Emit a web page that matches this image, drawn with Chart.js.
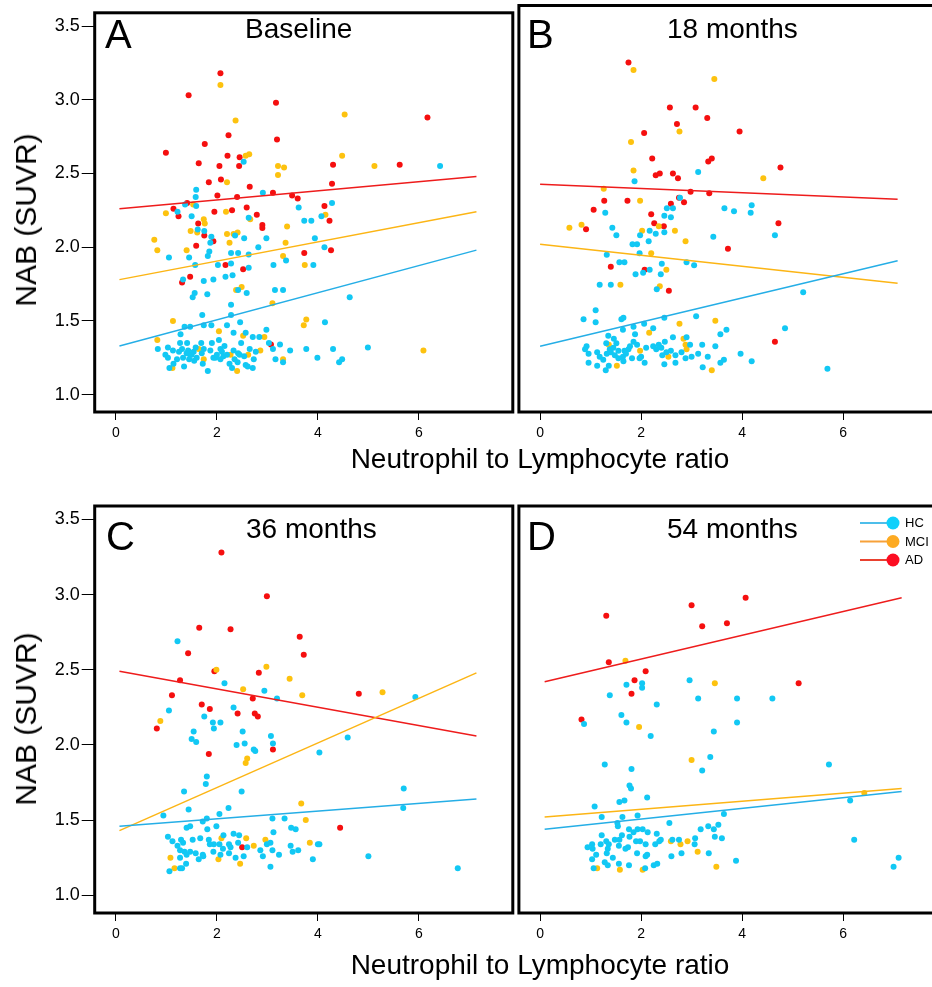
<!DOCTYPE html>
<html><head><meta charset="utf-8">
<script src="https://cdn.jsdelivr.net/npm/chart.js@4/dist/chart.umd.min.js"></script>
<style>
html,body{margin:0;padding:0;background:#fff;overflow:hidden;width:932px;height:987px;}
#wrap{position:relative;width:932px;height:987px;overflow:hidden;}
canvas{position:absolute;}
.xt{position:absolute;font-family:'Liberation Sans',Arial,sans-serif;font-size:28px;color:#000;white-space:nowrap;transform:translateX(-50%);line-height:1;}
.yt{position:absolute;font-family:'Liberation Sans',Arial,sans-serif;font-size:30px;color:#000;white-space:nowrap;transform:translate(-50%,-50%) rotate(-90deg);line-height:1;}
</style></head><body><div id="wrap">
<canvas id="cA" width="516" height="450" style="left:0;top:0"></canvas>
<canvas id="cB" width="426" height="450" style="left:516px;top:0"></canvas>
<canvas id="cC" width="516" height="460" style="left:0;top:490px"></canvas>
<canvas id="cD" width="426" height="460" style="left:516px;top:490px"></canvas>
<div class="yt" id="yt1" style="left:26px;top:220px"></div>
<div class="yt" id="yt2" style="left:26px;top:719px"></div>
<div class="xt" id="xt1" style="left:540px;top:445px"></div>
<div class="xt" id="xt2" style="left:540px;top:951px"></div>
</div>
<script>
// ---------- text / categories ----------
const groups = ['HC', 'MCI', 'AD'];
const panelLetters = ['A', 'B', 'C', 'D'];
const panelTitles = ['Baseline', '18 months', '36 months', '54 months'];
const xAxisTitle = 'Neutrophil to Lymphocyte ratio';
const yAxisTitle = 'NAB (SUVR)';
const xTicks = [0, 2, 4, 6];
const xTickLabels = ['0', '2', '4', '6'];
const yTicks = [1.0, 1.5, 2.0, 2.5, 3.0, 3.5];
const yTickLabels = ['1.0', '1.5', '2.0', '2.5', '3.0', '3.5'];

// ---------- Panel A: Baseline ----------
const A_HC = [[2.53,2.58],[6.42,2.55],[1.59,2.39],[1.58,2.34],[1.37,2.29],[1.59,2.28],[2.91,2.37],[3.62,2.27],[4.28,2.30],[1.22,2.24],[1.50,2.21],[2.63,2.20],[3.73,2.18],[3.87,2.18],[4.07,2.21],[1.62,2.12],[1.75,2.11],[1.89,2.07],[2.36,2.08],[2.54,2.06],[2.98,2.06],[3.94,2.06],[4.13,2.00],[1.05,1.93],[1.45,1.93],[1.57,1.88],[1.87,2.03],[1.85,1.97],[1.82,1.94],[2.02,1.88],[2.28,1.96],[2.42,1.96],[2.63,1.95],[2.28,1.89],[2.82,2.00],[3.12,1.88],[3.37,1.91],[3.91,1.88],[1.33,1.78],[1.52,1.66],[1.56,1.69],[1.74,1.77],[1.93,1.78],[2.17,1.80],[2.31,1.81],[1.81,1.68],[2.42,1.71],[2.59,1.69],[2.63,1.86],[3.15,1.71],[3.31,1.71],[2.28,1.61],[1.71,1.54],[2.28,1.54],[4.63,1.66],[4.14,1.49],[1.36,1.46],[1.47,1.46],[1.74,1.47],[1.89,1.47],[2.20,1.47],[2.46,1.49],[1.28,1.41],[2.33,1.42],[2.57,1.42],[2.98,1.44],[2.71,1.39],[2.84,1.39],[1.27,1.35],[1.41,1.35],[1.69,1.35],[1.90,1.35],[2.04,1.37],[2.48,1.35],[3.03,1.35],[3.25,1.34],[0.83,1.31],[1.03,1.32],[1.13,1.30],[1.31,1.31],[1.43,1.30],[1.54,1.29],[1.74,1.31],[1.87,1.30],[2.07,1.31],[2.33,1.30],[2.65,1.31],[2.77,1.29],[3.77,1.31],[4.30,1.31],[4.99,1.32],[3.45,1.30],[3.11,1.31],[0.98,1.27],[1.03,1.25],[1.21,1.24],[1.33,1.25],[1.47,1.27],[1.60,1.25],[1.97,1.25],[2.13,1.26],[2.42,1.28],[2.54,1.26],[2.73,1.24],[3.16,1.24],[3.99,1.25],[3.31,1.22],[1.06,1.18],[1.14,1.21],[1.35,1.19],[1.55,1.23],[1.72,1.21],[1.93,1.25],[2.07,1.24],[2.25,1.21],[2.41,1.22],[2.57,1.20],[2.30,1.18],[2.61,1.19],[2.71,1.18],[1.82,1.16],[4.42,1.22],[4.48,1.24],[1.40,1.28],[1.50,1.27],[1.58,1.32],[1.70,1.28],[2.10,1.29],[2.20,1.27],[2.45,1.27],[1.25,1.29],[1.45,1.24],[2.00,1.27],[2.15,1.33],[2.35,1.24]];
const A_MCI = [[2.07,3.10],[2.37,2.86],[4.53,2.90],[2.64,2.63],[2.57,2.62],[4.48,2.62],[3.21,2.55],[3.33,2.54],[5.12,2.55],[3.21,2.49],[2.20,2.44],[1.53,2.29],[0.99,2.23],[2.18,2.24],[4.15,2.22],[1.74,2.19],[1.76,2.16],[2.66,2.19],[1.48,2.11],[1.61,2.10],[2.20,2.09],[2.33,2.09],[2.41,2.10],[3.39,2.14],[0.76,2.05],[0.82,1.98],[1.40,1.98],[3.36,2.03],[2.25,2.03],[3.31,1.94],[3.74,1.88],[2.38,1.71],[2.49,1.73],[3.10,1.62],[1.13,1.50],[3.77,1.51],[3.72,1.47],[2.04,1.43],[0.82,1.37],[2.52,1.40],[2.94,1.39],[1.64,1.31],[1.74,1.24],[2.86,1.30],[2.27,1.27],[2.62,1.27],[3.31,1.24],[1.12,1.18],[2.40,1.16],[6.09,1.30]];
const A_AD = [[2.07,3.18],[1.44,3.03],[3.17,2.98],[6.17,2.88],[0.99,2.64],[2.23,2.76],[1.76,2.70],[3.19,2.73],[2.21,2.62],[2.45,2.61],[1.64,2.57],[2.05,2.55],[2.44,2.55],[4.30,2.56],[5.62,2.56],[1.84,2.44],[2.08,2.46],[2.65,2.41],[2.01,2.35],[2.40,2.34],[1.41,2.30],[3.11,2.37],[3.49,2.35],[3.60,2.33],[1.14,2.26],[1.24,2.21],[2.30,2.25],[2.59,2.27],[1.95,2.24],[2.79,2.22],[4.13,2.28],[4.28,2.43],[1.63,2.16],[2.90,2.15],[2.90,2.13],[4.23,2.18],[1.59,2.01],[1.75,2.08],[1.93,2.04],[3.73,1.96],[4.26,1.98],[2.17,1.88],[2.52,1.85],[1.31,1.76],[1.47,1.80],[3.07,1.34]];
const A_fitHC = [[0.07,1.33],[7.14,1.98]];
const A_fitMCI = [[0.07,1.78],[7.14,2.24]];
const A_fitAD = [[0.07,2.26],[7.14,2.48]];

// ---------- Panel B: 18 months ----------
const B_HC = [[3.13,2.48],[1.87,2.42],[2.77,2.31],[2.51,2.24],[2.63,2.24],[3.65,2.24],[3.84,2.22],[4.19,2.26],[4.17,2.21],[1.29,2.21],[2.46,2.19],[2.59,2.18],[1.43,2.11],[1.51,2.06],[2.17,2.09],[2.29,2.07],[2.46,2.08],[1.98,2.06],[2.15,2.02],[1.83,2.00],[1.92,2.00],[3.43,2.05],[4.65,2.06],[1.32,1.93],[1.97,1.94],[1.57,1.88],[1.67,1.88],[2.41,1.87],[2.90,1.88],[3.05,1.86],[1.89,1.80],[2.04,1.81],[2.17,1.83],[2.39,1.80],[1.18,1.73],[1.40,1.73],[2.31,1.70],[5.21,1.68],[1.10,1.56],[0.86,1.50],[1.10,1.48],[1.61,1.50],[1.65,1.51],[2.06,1.47],[2.46,1.51],[3.09,1.52],[4.85,1.44],[1.64,1.43],[1.85,1.45],[2.24,1.44],[3.69,1.43],[3.57,1.40],[1.35,1.39],[1.46,1.37],[1.88,1.40],[2.63,1.38],[2.90,1.38],[0.92,1.32],[1.31,1.34],[1.51,1.34],[1.85,1.35],[1.92,1.33],[2.24,1.32],[2.47,1.35],[2.97,1.33],[3.21,1.33],[3.47,1.32],[0.89,1.30],[1.13,1.28],[1.38,1.30],[1.67,1.29],[1.75,1.30],[2.10,1.31],[2.40,1.31],[2.59,1.29],[2.80,1.28],[0.96,1.27],[1.18,1.25],[1.32,1.27],[1.48,1.26],[1.64,1.25],[1.82,1.24],[2.00,1.25],[2.42,1.26],[2.68,1.26],[3.00,1.25],[3.13,1.27],[3.97,1.27],[0.96,1.21],[1.13,1.19],[1.36,1.19],[1.65,1.22],[1.97,1.24],[2.07,1.21],[2.46,1.20],[2.68,1.21],[2.88,1.24],[3.32,1.25],[3.57,1.21],[3.64,1.23],[4.19,1.22],[1.30,1.16],[3.22,1.18],[5.69,1.17],[1.40,1.28],[1.45,1.31],[1.55,1.29],[1.70,1.27],[1.78,1.32],[1.55,1.24],[1.25,1.23],[2.30,1.30],[2.35,1.33],[2.50,1.28]];
const B_MCI = [[1.85,3.16],[3.45,3.10],[2.76,2.75],[1.80,2.68],[1.85,2.49],[4.42,2.44],[1.26,2.37],[1.98,2.29],[0.58,2.11],[0.82,2.13],[2.02,2.09],[2.35,2.12],[2.67,2.09],[2.88,2.02],[2.20,1.94],[2.50,1.83],[1.59,1.73],[2.37,1.72],[2.76,1.47],[3.47,1.49],[2.16,1.41],[2.84,1.37],[2.88,1.33],[2.90,1.30],[1.36,1.33],[1.98,1.29],[2.54,1.25],[1.52,1.19],[3.40,1.16]];
const B_AD = [[1.75,3.21],[2.57,2.91],[3.08,2.91],[3.31,2.84],[2.71,2.80],[2.06,2.74],[3.95,2.75],[2.22,2.57],[3.33,2.55],[3.40,2.57],[4.76,2.51],[2.29,2.46],[2.37,2.47],[2.63,2.47],[2.73,2.44],[2.98,2.35],[3.35,2.34],[1.27,2.29],[1.73,2.29],[2.75,2.31],[2.85,2.28],[2.59,2.27],[1.06,2.23],[0.91,2.10],[2.20,2.20],[2.26,2.14],[2.45,2.12],[4.72,2.14],[3.72,1.97],[1.40,1.85],[2.07,1.83],[2.55,1.69],[4.65,1.35]];
const B_fitHC = [[0.0,1.32],[7.08,1.89]];
const B_fitMCI = [[0.0,2.00],[7.08,1.74]];
const B_fitAD = [[0.0,2.40],[7.08,2.30]];

// ---------- Panel C: 36 months ----------
const C_HC = [[1.22,2.69],[2.15,2.41],[2.94,2.36],[3.19,2.31],[5.93,2.32],[2.33,2.25],[1.05,2.23],[1.75,2.19],[2.07,2.15],[1.92,2.15],[1.94,2.11],[1.54,2.09],[2.51,2.09],[1.50,2.04],[1.59,2.02],[3.07,2.06],[3.11,2.01],[2.39,2.00],[2.55,2.01],[2.73,1.97],[2.76,1.96],[4.59,2.05],[4.03,1.95],[1.80,1.79],[1.78,1.74],[2.49,1.69],[1.35,1.69],[5.70,1.71],[5.69,1.58],[0.94,1.53],[1.44,1.57],[2.23,1.58],[2.05,1.54],[1.80,1.51],[1.72,1.49],[3.10,1.51],[3.34,1.51],[1.99,1.46],[1.40,1.45],[1.47,1.46],[3.47,1.45],[3.56,1.44],[1.81,1.44],[1.03,1.39],[1.29,1.37],[1.12,1.36],[1.33,1.35],[1.52,1.37],[1.67,1.38],[1.84,1.37],[2.13,1.40],[2.33,1.41],[2.44,1.40],[3.12,1.42],[1.86,1.34],[1.94,1.34],[2.05,1.34],[2.24,1.34],[2.42,1.35],[3.06,1.35],[4.03,1.34],[1.22,1.33],[1.27,1.30],[1.36,1.29],[1.47,1.29],[1.58,1.28],[1.72,1.27],[1.93,1.29],[2.12,1.31],[2.27,1.32],[2.60,1.32],[2.86,1.30],[2.99,1.34],[3.10,1.30],[3.46,1.33],[3.61,1.30],[3.50,1.29],[4.00,1.34],[1.27,1.25],[1.64,1.24],[1.73,1.26],[2.07,1.27],[2.24,1.28],[2.37,1.25],[2.53,1.26],[2.91,1.26],[3.23,1.27],[3.90,1.24],[5.00,1.26],[1.39,1.21],[1.31,1.18],[1.06,1.16],[1.27,1.18],[3.06,1.19],[6.77,1.18],[1.40,1.27]];
const C_MCI = [[1.99,2.50],[2.98,2.52],[3.44,2.44],[2.52,2.37],[3.69,2.33],[5.28,2.35],[0.88,2.16],[2.60,1.91],[2.57,1.88],[3.67,1.61],[3.76,1.50],[3.84,1.35],[2.09,1.38],[2.58,1.38],[2.96,1.37],[2.73,1.33],[1.08,1.25],[1.16,1.18],[2.03,1.24],[2.46,1.21]];
const C_AD = [[2.09,3.28],[2.99,2.99],[1.65,2.78],[2.27,2.77],[3.64,2.72],[3.72,2.60],[1.43,2.61],[1.95,2.49],[2.83,2.48],[1.27,2.43],[1.11,2.33],[4.81,2.34],[2.71,2.31],[1.70,2.27],[1.86,2.24],[2.41,2.21],[2.75,2.21],[2.81,2.19],[0.81,2.11],[1.84,1.94],[3.11,1.97],[4.44,1.45],[2.50,1.32]];
const C_fitHC = [[0.07,1.46],[7.14,1.64]];
const C_fitMCI = [[0.07,1.43],[7.14,2.48]];
const C_fitAD = [[0.07,2.49],[7.14,2.06]];

// ---------- Panel D: 54 months ----------
const D_HC = [[2.96,2.43],[1.71,2.40],[2.02,2.41],[2.02,2.38],[1.38,2.33],[2.31,2.27],[3.13,2.31],[3.90,2.31],[4.60,2.31],[1.61,2.20],[1.71,2.15],[0.87,2.14],[3.90,2.15],[3.44,2.09],[2.19,2.06],[3.37,1.92],[3.21,1.83],[1.28,1.87],[1.81,1.84],[5.72,1.87],[1.77,1.73],[1.80,1.71],[2.12,1.65],[1.67,1.63],[1.57,1.62],[1.08,1.59],[6.14,1.63],[3.64,1.54],[1.22,1.52],[1.63,1.52],[1.93,1.53],[1.53,1.48],[2.56,1.48],[1.54,1.46],[3.18,1.44],[3.33,1.46],[3.53,1.47],[3.44,1.44],[1.22,1.40],[1.31,1.36],[1.48,1.37],[1.62,1.40],[1.76,1.44],[1.85,1.42],[1.93,1.44],[2.03,1.44],[2.13,1.42],[2.31,1.41],[2.39,1.37],[1.77,1.39],[1.57,1.37],[1.90,1.36],[1.98,1.36],[2.09,1.34],[2.28,1.34],[2.36,1.36],[2.62,1.37],[2.75,1.37],[3.07,1.38],[3.06,1.34],[3.46,1.39],[3.60,1.38],[1.03,1.34],[1.20,1.34],[1.36,1.34],[0.94,1.32],[1.04,1.31],[1.34,1.31],[1.56,1.33],[1.69,1.31],[1.74,1.32],[1.92,1.28],[1.11,1.27],[1.32,1.28],[1.44,1.25],[1.56,1.21],[1.28,1.22],[1.03,1.24],[1.06,1.18],[1.34,1.20],[1.76,1.20],[2.09,1.26],[2.12,1.27],[2.08,1.18],[2.25,1.20],[2.32,1.21],[2.60,1.26],[2.80,1.28],[3.34,1.28],[3.88,1.23],[6.22,1.37],[7.00,1.19],[7.10,1.25]];
const D_MCI = [[1.69,2.56],[3.46,2.41],[1.96,2.12],[3.00,1.90],[6.42,1.68],[2.59,1.36],[2.78,1.34],[2.92,1.36],[3.12,1.29],[3.49,1.19],[1.13,1.18],[1.58,1.17],[2.03,1.17]];
const D_AD = [[4.07,2.98],[3.00,2.93],[1.31,2.86],[3.21,2.79],[3.70,2.81],[1.36,2.55],[2.09,2.49],[1.87,2.43],[1.81,2.34],[5.12,2.41],[0.82,2.17]];
const D_fitHC = [[0.09,1.44],[7.16,1.69]];
const D_fitMCI = [[0.09,1.52],[7.16,1.71]];
const D_fitAD = [[0.09,2.42],[7.16,2.98]];

// ---------- styling ----------
const FONT = "'Liberation Sans', Arial, Helvetica, sans-serif";
const pointColors = ['#12c8f4', '#fdc20f', '#f50f0f'];
const lineColors = ['#25aee6', '#fcb515', '#ee1c1c'];
const legendLineColors = ['#4ebeea', '#f7a13a', '#e9412f'];
const legendDotColors = ['#0fd0fb', '#fdaa22', '#fc0d22'];

document.getElementById('xt1').textContent = xAxisTitle;
document.getElementById('xt2').textContent = xAxisTitle;
document.getElementById('yt1').textContent = yAxisTitle;
document.getElementById('yt2').textContent = yAxisTitle;

const toXY = arr => arr.map(p => ({x: p[0], y: p[1]}));

const decoPlugin = {
  id: 'deco',
  afterDraw(chart, args, o) {
    const ctx = chart.ctx, a = chart.chartArea;
    ctx.save();
    ctx.strokeStyle = '#000';
    ctx.lineWidth = 3;
    ctx.strokeRect(a.left, a.top, a.right - a.left, a.bottom - a.top);
    ctx.fillStyle = '#000';
    ctx.textAlign = 'left';
    ctx.textBaseline = 'alphabetic';
    ctx.font = '40px ' + FONT;
    ctx.fillText(o.letter, o.letterX, o.letterY);
    ctx.font = '28px ' + FONT;
    ctx.fillText(o.title, o.titleX, o.titleY);
    if (o.legend) {
      const L = o.legend;
      groups.forEach((g, i) => {
        const y = L.y0 + i * L.dy;
        ctx.strokeStyle = legendLineColors[i];
        ctx.lineWidth = 2;
        ctx.beginPath();
        ctx.moveTo(L.x0, y);
        ctx.lineTo(L.cx, y);
        ctx.stroke();
        ctx.fillStyle = legendDotColors[i];
        ctx.beginPath();
        ctx.arc(L.cx, y, 6.5, 0, Math.PI * 2);
        ctx.fill();
        ctx.fillStyle = '#000';
        ctx.font = '13px ' + FONT;
        ctx.textBaseline = 'middle';
        ctx.fillText(g, L.tx, y + 0.5);
      });
    }
    ctx.restore();
  }
};

function makePanel(id, series, fits, showY, pad, xH, deco) {
  const datasets = [];
  series.forEach((s, i) => {
    datasets.push({
      type: 'scatter', label: groups[i], data: toXY(s),
      pointRadius: 3, pointHoverRadius: 3, pointBorderWidth: 0,
      pointBackgroundColor: pointColors[i], borderColor: pointColors[i],
      backgroundColor: pointColors[i], order: 2
    });
  });
  fits.forEach((f, i) => {
    datasets.push({
      type: 'line', label: groups[i] + ' fit', data: toXY(f),
      borderColor: lineColors[i], borderWidth: 1.5, pointRadius: 0,
      pointHoverRadius: 0, fill: false, tension: 0, order: 1
    });
  });
  new Chart(document.getElementById(id), {
    type: 'scatter',
    data: {datasets},
    options: {
      responsive: false, animation: false, events: [],
      layout: {padding: pad, autoPadding: false},
      plugins: {legend: {display: false}, tooltip: {enabled: false}, deco},
      scales: {
        x: {
          type: 'linear', min: -0.42, max: 7.86,
          afterBuildTicks: s => { s.ticks = xTicks.map(v => ({value: v})); },
          afterFit: s => { s.height = xH; },
          ticks: {callback: (v, i) => xTickLabels[i], font: {family: FONT, size: 14}, color: '#000', padding: 5, maxRotation: 0, autoSkip: false},
          grid: {drawOnChartArea: false, tickLength: 8, color: '#000', lineWidth: 1},
          border: {display: false}
        },
        y: {
          type: 'linear', min: 0.882, max: 3.59, display: showY,
          afterBuildTicks: s => { s.ticks = yTicks.map(v => ({value: v})); },
          afterFit: s => { s.width = showY ? 94.7 : 0; },
          ticks: {callback: (v, i) => yTickLabels[i], font: {family: FONT, size: 18}, color: '#000', padding: 2, autoSkip: false},
          grid: {drawOnChartArea: false, tickLength: 13, color: '#000', lineWidth: 1},
          border: {display: false}
        }
      }
    },
    plugins: [decoPlugin]
  });
}

makePanel('cA', [A_HC, A_MCI, A_AD], [A_fitHC, A_fitMCI, A_fitAD], true,
  {left: 0, top: 5.5, right: 3.2, bottom: 0}, 38,
  {letter: panelLetters[0], title: panelTitles[0], letterX: 105, letterY: 48, titleX: 245, titleY: 38});
makePanel('cB', [B_HC, B_MCI, B_AD], [B_fitHC, B_fitMCI, B_fitAD], false,
  {left: 2.9, top: 5.5, right: 5, bottom: 0}, 38,
  {letter: panelLetters[1], title: panelTitles[1], letterX: 11, letterY: 48, titleX: 151, titleY: 38});
makePanel('cC', [C_HC, C_MCI, C_AD], [C_fitHC, C_fitMCI, C_fitAD], true,
  {left: 0, top: 16, right: 3.2, bottom: 0}, 37,
  {letter: panelLetters[2], title: panelTitles[2], letterX: 106, letterY: 60, titleX: 246, titleY: 48});
makePanel('cD', [D_HC, D_MCI, D_AD], [D_fitHC, D_fitMCI, D_fitAD], false,
  {left: 2.9, top: 16, right: 5, bottom: 0}, 37,
  {letter: panelLetters[3], title: panelTitles[3], letterX: 11, letterY: 60, titleX: 151, titleY: 48,
   legend: {x0: 344, cx: 377, tx: 389, y0: 33, dy: 18.5}});
</script>
</body></html>
